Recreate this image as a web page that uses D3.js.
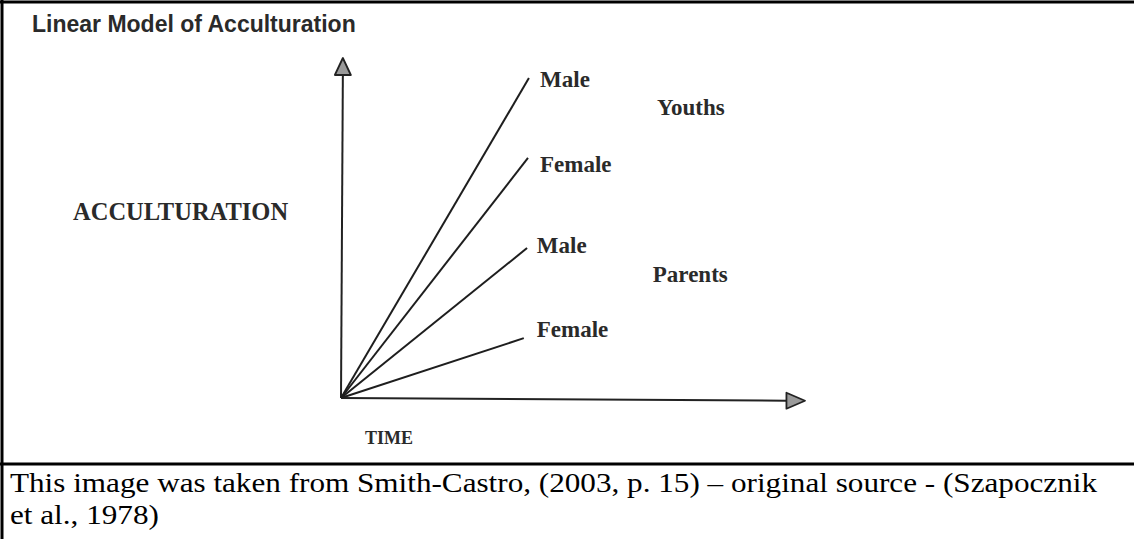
<!DOCTYPE html>
<meta charset="utf-8">
<style>
body { margin: 0; background: #fff; }
svg { display: block; }
.title { font: bold 23px "Liberation Sans", Arial, sans-serif; fill: #2a2a2a; }
.lab { font: bold 23px "Liberation Serif", "Times New Roman", serif; fill: #2a2a2a; }
.axislab { font: bold 24.5px "Liberation Serif", "Times New Roman", serif; fill: #2a2a2a; }
.caption { font: 27px "Liberation Serif", "Times New Roman", serif; fill: #000; }
</style>
<svg width="1134" height="539"></svg>
<script src="https://d3js.org/d3.v7.min.js"></script>
<script>

// line ends (time, acculturation), top to bottom
var series = ["Youths Male", "Youths Female", "Parents Male", "Parents Female"],
    labels = ["Male", "Female", "Male", "Female"],
    endTime = [4.05, 4.03, 4.01, 3.94],
    endAcc = [9.41, 7.06, 4.41, 1.76],
    labelTime = [4.29, 4.29, 4.22, 4.22],
    labelAcc = [9.15, 6.65, 4.26, 1.79];

var groups = ["Youths", "Parents"],
    groupTime = [6.81, 6.72],
    groupAcc = [8.32, 3.41];

var svg = d3.select("svg");

var x = d3.scaleLinear().domain([0, 10]).range([341, 805]),
    y = d3.scaleLinear().domain([0, 10]).range([398, 58]);

// frame
svg.append("line").attr("x1", 0).attr("x2", 1134).attr("y1", 2).attr("y2", 2)
    .attr("stroke", "#000").attr("stroke-width", 3);
svg.append("line").attr("x1", 2).attr("x2", 2).attr("y1", 0).attr("y2", 539)
    .attr("stroke", "#000").attr("stroke-width", 3);
svg.append("line").attr("x1", 0).attr("x2", 1134).attr("y1", 464).attr("y2", 464)
    .attr("stroke", "#000").attr("stroke-width", 3);

svg.append("text").attr("class", "title").attr("x", 32).attr("y", 32)
    .text("Linear Model of Acculturation");

// axes
var g = svg.append("g");
g.append("line").attr("x1", x(0)).attr("y1", y(0)).attr("x2", x(0.04)).attr("y2", y(9.5))
    .attr("stroke", "#222").attr("stroke-width", 2);
g.append("line").attr("x1", x(0)).attr("y1", y(0)).attr("x2", x(9.6)).attr("y2", y(-0.08))
    .attr("stroke", "#222").attr("stroke-width", 2);

// arrow heads
var up = [[x(0.04), y(10)], [x(0.04) - 8, y(9.5)], [x(0.04) + 8, y(9.5)]],
    right = [[x(10), y(-0.08)], [x(9.6), y(-0.08) - 8], [x(9.6), y(-0.08) + 8]];
[up, right].forEach(function(p) {
  g.append("polygon").attr("points", p.map(function(d) { return d.join(","); }).join(" "))
      .attr("fill", "#9a9a9a").attr("stroke", "#222").attr("stroke-width", 1.8)
      .attr("stroke-linejoin", "round");
});

// model lines
g.selectAll(".model")
  .data(series)
  .enter().append("line")
    .attr("class", "model")
    .attr("x1", x(0)).attr("y1", y(0))
    .attr("x2", function(d, i) { return x(endTime[i]); })
    .attr("y2", function(d, i) { return y(endAcc[i]); })
    .attr("stroke", "#1e1e1e").attr("stroke-width", 2);

g.selectAll(".lab")
  .data(labels)
  .enter().append("text")
    .attr("class", "lab")
    .attr("x", function(d, i) { return x(labelTime[i]); })
    .attr("y", function(d, i) { return y(labelAcc[i]); })
    .text(function(d) { return d; });

g.selectAll(".grp")
  .data(groups)
  .enter().append("text")
    .attr("class", "lab grp")
    .attr("x", function(d, i) { return x(groupTime[i]); })
    .attr("y", function(d, i) { return y(groupAcc[i]); })
    .text(function(d) { return d; });

svg.append("text").attr("class", "axislab").attr("x", 73).attr("y", 220)
    .text("ACCULTURATION");
svg.append("text").attr("class", "axislab").attr("x", 365).attr("y", 444)
    .style("font-size", "18px").text("TIME");

// caption, stretched to the width it has in the reference
var cap1 = svg.append("text").attr("class", "caption").attr("x", 10).attr("y", 492)
    .text("This image was taken from Smith-Castro, (2003, p. 15) \u2013 original source - (Szapocznik");
var cap2 = svg.append("text").attr("class", "caption").attr("x", 10).attr("y", 524)
    .text("et al., 1978)");
var k = 1087 / cap1.node().getComputedTextLength();
[cap1, cap2].forEach(function(t) {
  t.attr("textLength", t.node().getComputedTextLength() * k)
   .attr("lengthAdjust", "spacingAndGlyphs");
});

</script>
